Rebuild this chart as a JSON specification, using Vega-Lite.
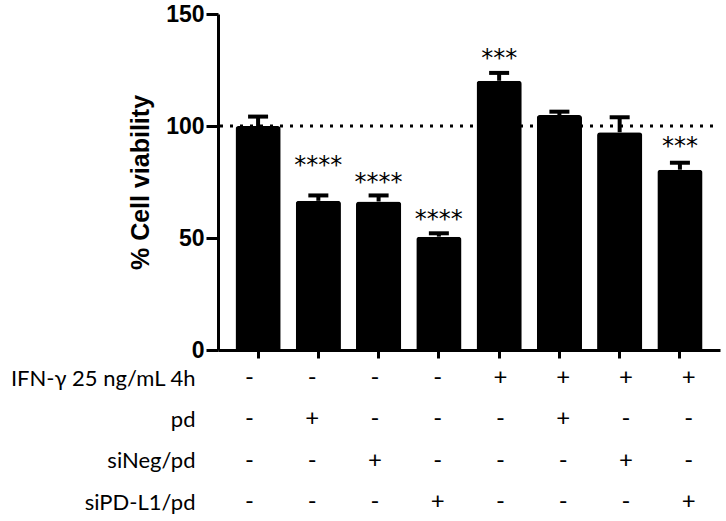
{
  "$schema": "https://vega.github.io/schema/vega-lite/v6.json",
  "padding": {"left": 9, "top": 3, "right": 8, "bottom": 5},
  "background": "white",
  "config": {
    "view": {"stroke": null},
    "axis": {"domainColor": "black", "tickColor": "black", "labelColor": "black", "titleColor": "black", "grid": false}
  },
  "datasets": {
    "bars": [
      {"group": "G1", "value": 100, "upper": 104.2, "stars": "", "starY": 0},
      {"group": "G2", "value": 66.6, "upper": 69, "stars": "****", "starY": 78.9},
      {"group": "G3", "value": 66.3, "upper": 69, "stars": "****", "starY": 71.3},
      {"group": "G4", "value": 50.6, "upper": 52.1, "stars": "****", "starY": 54.8},
      {"group": "G5", "value": 120.2, "upper": 123.7, "stars": "***", "starY": 126.6},
      {"group": "G6", "value": 104.9, "upper": 106.4, "stars": "", "starY": 0},
      {"group": "G7", "value": 97.2, "upper": 103.9, "stars": "", "starY": 0},
      {"group": "G8", "value": 80.5, "upper": 83.6, "stars": "***", "starY": 87.4}
    ],
    "table": [
      {"group": "G1", "row": "IFN-γ 25 ng/mL 4h", "sign": "-"},
      {"group": "G2", "row": "IFN-γ 25 ng/mL 4h", "sign": "-"},
      {"group": "G3", "row": "IFN-γ 25 ng/mL 4h", "sign": "-"},
      {"group": "G4", "row": "IFN-γ 25 ng/mL 4h", "sign": "-"},
      {"group": "G5", "row": "IFN-γ 25 ng/mL 4h", "sign": "+"},
      {"group": "G6", "row": "IFN-γ 25 ng/mL 4h", "sign": "+"},
      {"group": "G7", "row": "IFN-γ 25 ng/mL 4h", "sign": "+"},
      {"group": "G8", "row": "IFN-γ 25 ng/mL 4h", "sign": "+"},
      {"group": "G1", "row": "pd", "sign": "-"},
      {"group": "G2", "row": "pd", "sign": "+"},
      {"group": "G3", "row": "pd", "sign": "-"},
      {"group": "G4", "row": "pd", "sign": "-"},
      {"group": "G5", "row": "pd", "sign": "-"},
      {"group": "G6", "row": "pd", "sign": "+"},
      {"group": "G7", "row": "pd", "sign": "-"},
      {"group": "G8", "row": "pd", "sign": "-"},
      {"group": "G1", "row": "siNeg/pd", "sign": "-"},
      {"group": "G2", "row": "siNeg/pd", "sign": "-"},
      {"group": "G3", "row": "siNeg/pd", "sign": "+"},
      {"group": "G4", "row": "siNeg/pd", "sign": "-"},
      {"group": "G5", "row": "siNeg/pd", "sign": "-"},
      {"group": "G6", "row": "siNeg/pd", "sign": "-"},
      {"group": "G7", "row": "siNeg/pd", "sign": "+"},
      {"group": "G8", "row": "siNeg/pd", "sign": "-"},
      {"group": "G1", "row": "siPD-L1/pd", "sign": "-"},
      {"group": "G2", "row": "siPD-L1/pd", "sign": "-"},
      {"group": "G3", "row": "siPD-L1/pd", "sign": "-"},
      {"group": "G4", "row": "siPD-L1/pd", "sign": "+"},
      {"group": "G5", "row": "siPD-L1/pd", "sign": "-"},
      {"group": "G6", "row": "siPD-L1/pd", "sign": "-"},
      {"group": "G7", "row": "siPD-L1/pd", "sign": "-"},
      {"group": "G8", "row": "siPD-L1/pd", "sign": "+"}
    ],
    "refline": [{"ref": 100}]
  },
  "bounds": "flush",
  "spacing": 28,
  "vconcat": [
    {
      "width": 502,
      "height": 336,
      "layer": [
        {
          "data": {"name": "refline"},
          "mark": {"type": "rule", "strokeDash": [3, 7], "strokeDashOffset": -7, "strokeWidth": 3, "color": "black"},
          "encoding": {
            "y": {"field": "ref", "type": "quantitative", "scale": {"domain": [0, 150], "nice": false}}
          }
        },
        {
          "data": {"name": "bars"},
          "mark": {"type": "bar", "color": "black", "cornerRadiusEnd": 3},
          "encoding": {
            "x": {"field": "group", "type": "ordinal", "sort": null,
                  "scale": {"paddingInner": 0.25, "paddingOuter": 0.29},
                  "axis": {"title": null, "labels": false, "ticks": true, "tickSize": 8, "tickWidth": 3, "domainWidth": 3}},
            "y": {"field": "value", "type": "quantitative",
                  "scale": {"domain": [0, 150], "nice": false},
                  "axis": {"values": [0, 50, 100, 150], "title": "% Cell viability",
                           "titleFont": "Liberation Sans", "titleFontSize": 25, "titleFontWeight": "bold", "titlePadding": 12,
                           "labelFont": "Liberation Sans", "labelFontSize": 23, "labelFontWeight": "bold", "labelPadding": 2,
                           "tickSize": 12, "tickWidth": 3, "domainWidth": 3}}
          }
        },
        {
          "data": {"name": "bars"},
          "mark": {"type": "rule", "color": "black", "strokeWidth": 4},
          "encoding": {
            "x": {"field": "group", "type": "ordinal", "sort": null, "scale": {"paddingInner": 0.25, "paddingOuter": 0.29}},
            "y": {"field": "value", "type": "quantitative"},
            "y2": {"field": "upper"}
          }
        },
        {
          "data": {"name": "bars"},
          "mark": {"type": "tick", "color": "black", "size": 20, "thickness": 4, "opacity": 1},
          "encoding": {
            "x": {"field": "group", "type": "ordinal", "sort": null, "scale": {"paddingInner": 0.25, "paddingOuter": 0.29}},
            "y": {"field": "upper", "type": "quantitative"}
          }
        },
        {
          "data": {"name": "bars"},
          "mark": {"type": "text", "font": "DejaVu Sans", "fontSize": 24, "baseline": "alphabetic", "align": "center", "color": "black"},
          "encoding": {
            "x": {"field": "group", "type": "ordinal", "sort": null, "scale": {"paddingInner": 0.25, "paddingOuter": 0.29}},
            "y": {"field": "starY", "type": "quantitative"},
            "text": {"field": "stars"}
          }
        }
      ]
    },
    {
      "width": 502,
      "height": 124,
      "data": {"name": "table"},
      "mark": {"type": "text", "font": "Lato", "fontSize": 24, "baseline": "middle", "align": "center", "color": "black"},
      "encoding": {
        "x": {"field": "group", "type": "ordinal", "sort": null,
              "scale": {"paddingInner": 0.25, "paddingOuter": 0.29}, "axis": null},
        "y": {"field": "row", "type": "nominal",
              "sort": ["IFN-γ 25 ng/mL 4h", "pd", "siNeg/pd", "siPD-L1/pd"],
              "scale": {"type": "point", "padding": 0},
              "axis": {"title": null, "domain": false, "ticks": false, "labelFont": "Lato", "labelFontSize": 22,
                       "labelLimit": 400, "labelPadding": 23, "labelBaseline": "middle"}},
        "text": {"field": "sign"}
      }
    }
  ]
}
